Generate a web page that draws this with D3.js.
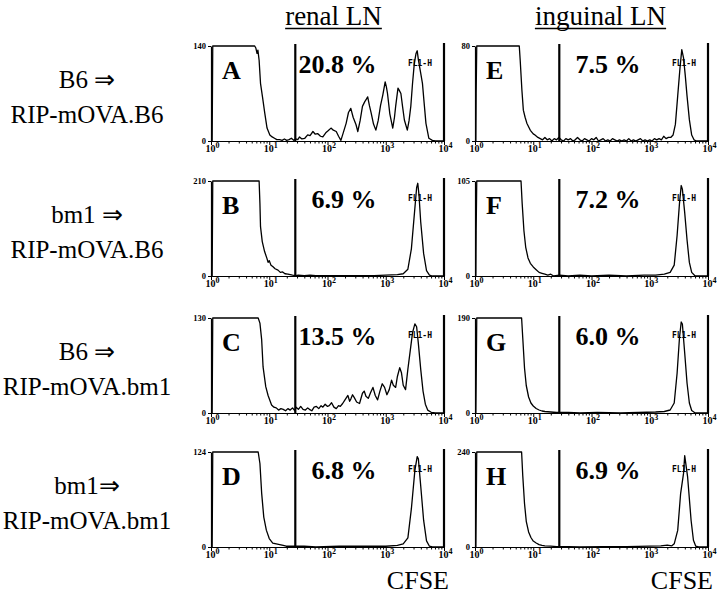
<!DOCTYPE html>
<html><head><meta charset="utf-8">
<script src="https://cdn.jsdelivr.net/npm/d3@7"></script>
<style>body{margin:0;background:#fff} svg text{-webkit-font-smoothing:antialiased}</style>
</head><body>
<svg id="c" width="720" height="597"></svg>
<script>
// ---------------- data ----------------
const columns = ['renal LN', 'inguinal LN'];
const donors = ['B6 \u21D2', 'bm1 \u21D2', 'B6 \u21D2', 'bm1\u21D2'];
const recipients = ['RIP-mOVA.B6', 'RIP-mOVA.B6', 'RIP-mOVA.bm1', 'RIP-mOVA.bm1'];
const panelIds = ['A', 'B', 'C', 'D', 'E', 'F', 'G', 'H'];
const yMax = [140, 210, 130, 124, 80, 105, 190, 240];
const percents = ['20.8 %', '6.9 %', '13.5 %', '6.8 %', '7.5 %', '7.2 %', '6.0 %', '6.9 %'];
const xTickExps = [0, 1, 2, 3, 4];
const gateChannel = 28;
const axisLabel = 'CFSE';
const channelName = 'FL1-H';

// histograms: [log10(FL1-H channel), event count]
const histA = [[0,0],[0.02,0],[0.03,300],[0.75,300],[0.77,137],[0.79,129],[0.805,134],[0.826,119],[0.85,85],[0.884,65],[0.923,41],[0.962,19],[1.01,9],[1.05,6],[1.09,4],[1.13,2],[1.18,2],[1.22,1],[1.26,3],[1.3,1],[1.34,2],[1.38,4],[1.42,1],[1.45,3],[1.49,2],[1.52,6],[1.56,3],[1.61,4],[1.66,9],[1.7,8],[1.75,14],[1.79,10],[1.83,11],[1.88,7],[1.92,6],[1.97,12],[2.01,15],[2.06,19],[2.1,16],[2.15,14],[2.19,7],[2.23,1],[2.27,12],[2.32,26],[2.36,42],[2.4,48],[2.44,35],[2.49,24],[2.52,14],[2.56,30],[2.6,51],[2.64,58],[2.67,62],[2.69,65],[2.72,52],[2.75,41],[2.79,25],[2.83,16],[2.87,30],[2.91,52],[2.95,68],[2.99,87],[3.01,80],[3.03,70],[3.07,40],[3.12,19],[3.15,35],[3.17,51],[3.21,78],[3.23,75],[3.26,70],[3.29,50],[3.32,31],[3.37,16],[3.4,30],[3.43,51],[3.46,85],[3.49,114],[3.52,129],[3.54,133],[3.56,120],[3.6,100],[3.63,85],[3.66,55],[3.69,26],[3.74,4],[3.8,1],[3.85,0],[4,0]];
const histB = [[0,0],[0.02,0],[0.03,400],[0.826,400],[0.84,160],[0.85,109],[0.88,76],[0.92,54],[0.96,39],[0.98,30],[1.0,34],[1.03,24],[1.06,21],[1.1,16],[1.15,13],[1.19,8],[1.23,9],[1.27,5],[1.32,4],[1.36,3],[1.4,2],[1.45,1],[1.5,2],[1.6,1],[1.7,2],[1.8,1],[2.0,1],[2.2,1],[2.5,1],[2.8,1],[3.0,2],[3.2,3],[3.3,5],[3.38,15],[3.44,60],[3.5,150],[3.53,195],[3.55,205],[3.57,180],[3.6,120],[3.65,50],[3.7,12],[3.75,2],[3.8,0],[4,0]];
const histC = [[0,0],[0.02,0],[0.03,250],[0.81,250],[0.84,123],[0.87,100],[0.894,63],[0.94,36],[0.98,24],[1.04,11],[1.08,8],[1.12,7],[1.16,4],[1.2,6],[1.24,5],[1.28,3],[1.32,6],[1.36,4],[1.4,7],[1.44,3],[1.46,8],[1.5,5],[1.54,9],[1.58,5],[1.62,4],[1.66,7],[1.69,5],[1.73,3],[1.77,8],[1.81,9],[1.85,6],[1.89,10],[1.92,8],[1.96,12],[2.0,9],[2.03,10],[2.07,14],[2.11,8],[2.15,6],[2.19,10],[2.22,9],[2.26,13],[2.3,18],[2.35,24],[2.38,16],[2.4,19],[2.43,25],[2.46,21],[2.5,15],[2.55,13],[2.6,27],[2.63,30],[2.66,23],[2.7,20],[2.74,28],[2.78,35],[2.82,24],[2.86,18],[2.9,30],[2.94,40],[2.98,35],[3.02,25],[3.06,32],[3.1,45],[3.13,38],[3.17,35],[3.2,50],[3.24,62],[3.27,55],[3.3,38],[3.34,32],[3.38,60],[3.42,85],[3.46,110],[3.5,122],[3.53,118],[3.56,95],[3.6,60],[3.64,30],[3.68,12],[3.72,4],[3.78,1],[3.85,0],[4,0]];
const histD = [[0,0],[0.02,0],[0.03,250],[0.81,250],[0.84,109],[0.87,70],[0.906,39],[0.95,22],[1.0,11],[1.06,5],[1.12,4],[1.18,3],[1.24,2],[1.29,1],[1.4,1],[1.6,1],[1.8,0],[2.2,1],[2.6,1],[3.0,1],[3.2,2],[3.3,4],[3.38,12],[3.44,50],[3.5,100],[3.54,118],[3.56,115],[3.6,80],[3.65,35],[3.7,8],[3.75,1],[3.8,0],[4,0]];
const histE = [[0,0],[0.015,0],[0.02,40],[0.03,160],[0.76,160],[0.776,68],[0.805,43],[0.83,26],[0.86,20],[0.89,15],[0.95,9],[1.0,6],[1.03,5],[1.08,3],[1.12,2],[1.16,1],[1.2,3],[1.24,1],[1.28,2],[1.32,0],[1.36,2],[1.4,1],[1.44,3],[1.48,1],[1.52,0],[1.56,2],[1.6,1],[1.64,2],[1.68,0],[1.72,1],[1.76,3],[1.8,1],[1.84,0],[1.88,2],[1.92,1],[1.96,0],[2.0,2],[2.04,1],[2.08,3],[2.12,0],[2.16,1],[2.2,2],[2.24,0],[2.28,1],[2.32,0],[2.36,2],[2.4,1],[2.44,0],[2.48,1],[2.52,0],[2.56,1],[2.6,0],[2.64,2],[2.68,0],[2.72,1],[2.76,0],[2.8,1],[2.84,2],[2.88,0],[2.92,1],[2.96,0],[3.0,1],[3.04,0],[3.08,2],[3.12,1],[3.16,2],[3.2,1],[3.24,4],[3.28,2],[3.32,3],[3.36,3],[3.4,5],[3.44,14],[3.48,38],[3.52,62],[3.55,77],[3.58,70],[3.61,55],[3.64,38],[3.68,18],[3.72,5],[3.76,1],[3.8,0],[4,0]];
const histF = [[0,0],[0.015,0],[0.02,50],[0.03,200],[0.79,200],[0.81,80],[0.84,50],[0.87,32],[0.91,20],[0.95,14],[1.0,10],[1.05,7],[1.1,4],[1.15,3],[1.2,2],[1.25,1],[1.3,2],[1.35,0],[1.45,1],[1.6,0],[1.8,1],[2.0,0],[2.3,1],[2.6,0],[2.9,1],[3.1,1],[3.25,2],[3.35,4],[3.42,12],[3.47,45],[3.51,80],[3.54,100],[3.56,96],[3.6,70],[3.64,40],[3.68,15],[3.72,4],[3.78,0],[4,0]];
const histG = [[0,0],[0.015,0],[0.02,60],[0.03,400],[0.8,400],[0.82,150],[0.85,90],[0.88,55],[0.92,32],[0.96,20],[1.0,14],[1.05,9],[1.1,6],[1.15,4],[1.2,3],[1.3,2],[1.4,1],[1.6,1],[1.8,0],[2.1,1],[2.5,0],[2.8,1],[3.1,2],[3.25,3],[3.35,6],[3.42,20],[3.47,80],[3.51,150],[3.54,182],[3.56,178],[3.6,120],[3.64,60],[3.68,20],[3.72,5],[3.78,0],[4,0]];
const histH = [[0,0],[0.015,0],[0.02,80],[0.03,500],[0.8,500],[0.82,180],[0.85,110],[0.88,65],[0.92,38],[0.96,24],[1.0,15],[1.05,10],[1.1,6],[1.15,4],[1.2,3],[1.3,2],[1.4,1],[1.6,1],[1.8,0],[2.2,1],[2.6,1],[3.0,2],[3.19,3],[3.3,5],[3.38,3],[3.42,8],[3.48,42],[3.53,135],[3.58,186],[3.6,231],[3.65,177],[3.71,67],[3.75,17],[3.79,2],[3.84,0],[4,0]];
const hists = [histA, histB, histC, histD, histE, histF, histG, histH];

// ---------------- layout ----------------
const svg = d3.select('#c');
const colX = [211, 475];
const panelW = 233;
const rowTop = [46, 181, 318, 452];
const panelH = 95;
const serif = 'Liberation Serif, Times New Roman, serif';

// column headers and axis labels
columns.forEach((t, c) => {
  const cx = colX[c] + panelW / 2 + (c === 0 ? 6 : 9);
  const txt = svg.append('text').attr('x', cx).attr('y', 25)
    .attr('text-anchor', 'middle').attr('font-family', serif).attr('font-size', 27).text(t);
  const bb = txt.node().getBBox();
  svg.append('line').attr('x1', bb.x).attr('x2', bb.x + bb.width)
    .attr('y1', 28.5).attr('y2', 28.5).attr('stroke', '#000').attr('stroke-width', 1.3);
  svg.append('text').attr('x', colX[c] + panelW + 5).attr('y', 589)
    .attr('text-anchor', 'end').attr('font-family', serif).attr('font-size', 26).text(axisLabel);
});

// row labels
donors.forEach((d, r) => {
  svg.append('text').attr('x', 87).attr('y', rowTop[r] + 42).attr('text-anchor', 'middle')
    .attr('font-family', serif).attr('font-size', 25).text(d);
  svg.append('text').attr('x', 87).attr('y', rowTop[r] + 77).attr('text-anchor', 'middle')
    .attr('font-family', serif).attr('font-size', 25).text(recipients[r]);
});

// panels
panelIds.forEach((id, i) => {
  const col = Math.floor(i / 4), row = i % 4;
  const x0 = colX[col], y0 = rowTop[row];
  const x = d3.scaleLog().domain([1, 1e4]).range([x0, x0 + panelW]);
  const y = d3.scaleLinear().domain([0, yMax[i]]).range([y0 + panelH, y0]).clamp(true);
  const g = svg.append('g');

  const minors = x.ticks().filter(v => !xTickExps.map(e => 10 ** e).includes(v));
  g.append('g').attr('transform', `translate(0,${y0 + panelH})`)
    .call(d3.axisBottom(x).tickValues(minors).tickSize(2.5).tickSizeOuter(0).tickFormat(() => ''))
    .call(s => s.select('.domain').remove())
    .call(s => s.selectAll('line').attr('stroke-width', 1));
  const ax = g.append('g').attr('transform', `translate(0,${y0 + panelH})`)
    .call(d3.axisBottom(x).tickValues(xTickExps.map(e => 10 ** e)).tickSize(4).tickSizeOuter(0).tickFormat(() => ''));
  ax.select('.domain').attr('stroke-width', 1.2);
  ax.selectAll('.tick').each(function (v) {
    const t = d3.select(this).append('text').attr('y', 11)
      .attr('fill', '#000').attr('font-family', serif).attr('font-weight', 'bold')
      .attr('font-size', 10).attr('text-anchor', 'middle');
    t.append('tspan').text('10');
    t.append('tspan').attr('font-size', 8).attr('dy', -4).text(Math.round(Math.log10(v)));
    t.attr('x', 1);
  });

  const ay = g.append('g').attr('transform', `translate(${x0},0)`)
    .call(d3.axisLeft(y).tickValues([0, yMax[i]]).tickSize(3).tickSizeOuter(0).tickFormat(d3.format('d')));
  ay.select('.domain').attr('stroke-width', 1.2);
  ay.selectAll('text').attr('font-family', serif).attr('font-weight', 'bold')
    .attr('font-size', 8.5).attr('dx', 1).attr('fill', '#000');

  g.append('line').attr('x1', x(gateChannel)).attr('x2', x(gateChannel))
    .attr('y1', y0 - 2).attr('y2', y0 + panelH).attr('stroke', '#000').attr('stroke-width', 2.2);
  g.append('line').attr('x1', x(1e4)).attr('x2', x(1e4))
    .attr('y1', y0 - 3).attr('y2', y0 + panelH).attr('stroke', '#000').attr('stroke-width', 2.2);

  g.append('text').attr('x', x(10 ** 3.38)).attr('y', y0 + 20).attr('fill', '#000')
    .attr('font-family', 'DejaVu Sans Mono, monospace').attr('font-weight', 'bold')
    .attr('font-size', 8).text(channelName);

  const line = d3.line().x(d => x(10 ** d[0])).y(d => y(d[1]));
  g.append('path').datum(hists[i]).attr('d', line)
    .attr('fill', 'none').attr('stroke', '#000').attr('stroke-width', 1.3)
    .attr('stroke-linejoin', 'round');

  g.append('text').attr('x', x0 + 11).attr('y', y0 + 33)
    .attr('font-family', serif).attr('font-weight', 'bold').attr('font-size', 26).text(id);
  g.append('text').attr('x', x(10 ** 2.84)).attr('y', y0 + 27).attr('text-anchor', 'end')
    .attr('font-family', serif).attr('font-weight', 'bold').attr('font-size', 26).text(percents[i]);
});
</script>
</body></html>
